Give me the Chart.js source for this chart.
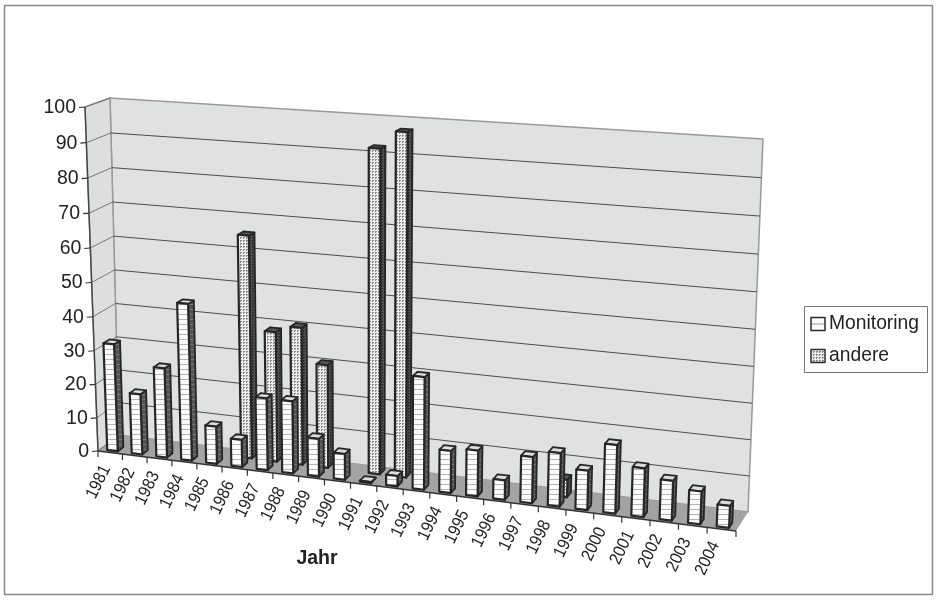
<!DOCTYPE html>
<html>
<head>
<meta charset="utf-8">
<title>Monitoring</title>
<script src="https://cdn.jsdelivr.net/npm/chart.js@4"></script>
<style>
  html, body { margin: 0; padding: 0; background: #fff; }
  #wrap { width: 938px; height: 604px; }
  canvas { filter: blur(0.5px); }
</style>
</head>
<body>
<div id="wrap"><canvas id="chart" width="938" height="604"></canvas></div>
<script>
const years = ["1981","1982","1983","1984","1985","1986","1987","1988","1989","1990","1991","1992",
  "1993","1994","1995","1996","1997","1998","1999","2000","2001","2002","2003","2004"];
const monitoring = [32,18,26.5,46,11,8,21,21,11,7.5,0.3,3,32,12,13,5.5,13,15,11,19,13.5,11,9,6];
const andere = [0,0,0,0,0,65,38,40,30,0,92,97,0,0,0,0,0,5,0,0,0,0,0,0];
const seriesNames = ["Monitoring", "andere"];
const xTitle = "Jahr";

// corners of the 3d box on screen: f = front, b = back, l/r, t/b
const box = {
  flb: [98, 451], flt: [85, 107], frb: [736, 531], frt: [752, 150],
  blb: [119, 435], blt: [110, 98], brb: [748, 512], brt: [763, 139],
};
// how deep in the box each row of bars sits
const rows = [[0.11, 0.38], [0.62, 0.89]];

function warp(t, a) {
  return (a * t) / (1 + (a - 1) * t);
}

function lerp(p, q, t) {
  return [p[0] + (q[0] - p[0]) * t, p[1] + (q[1] - p[1]) * t];
}

// u along the years, v up the value axis, w into the depth
function project(u, v, w) {
  let fu = warp(u, 0.917);
  let fv = warp(v, 0.96);
  let front = lerp(lerp(box.flb, box.frb, fu), lerp(box.flt, box.frt, fu), fv);
  let back = lerp(lerp(box.blb, box.brb, fu), lerp(box.blt, box.brt, fu), fv);
  return lerp(front, back, w);
}

function poly(ctx, pts, fill, stroke, lw) {
  ctx.beginPath();
  pts.forEach(function (p, i) {
    if (i == 0) ctx.moveTo(p[0], p[1]);
    else ctx.lineTo(p[0], p[1]);
  });
  ctx.closePath();
  if (fill) {
    ctx.fillStyle = fill;
    ctx.fill();
  }
  if (stroke) {
    ctx.strokeStyle = stroke;
    ctx.lineWidth = lw || 1;
    ctx.lineJoin = "round";
    ctx.stroke();
  }
}

function line(ctx, a, b, color, lw) {
  ctx.beginPath();
  ctx.moveTo(a[0], a[1]);
  ctx.lineTo(b[0], b[1]);
  ctx.strokeStyle = color;
  ctx.lineWidth = lw || 1;
  ctx.stroke();
}

function makePattern(ctx, w, h, bg, paint) {
  let c = document.createElement("canvas");
  c.width = w;
  c.height = h;
  let g = c.getContext("2d");
  g.fillStyle = bg;
  g.fillRect(0, 0, w, h);
  g.fillStyle = paint.color;
  paint.cells.forEach(function (cell) {
    g.fillRect(cell[0], cell[1], 1, 1);
  });
  return ctx.createPattern(c, "repeat");
}

function stripes(ctx, bg, color) {
  let cells = [];
  for (let x = 0; x < 4; x++) cells.push([x, 4]);
  return makePattern(ctx, 4, 5, bg, { color: color, cells: cells });
}

function dots(ctx, bg, color) {
  return makePattern(ctx, 3, 3, bg, { color: color, cells: [[0, 0], [1, 0], [0, 1]] });
}

const box3d = {
  id: "box3d",
  beforeDatasetsDraw(chart) {
    let ctx = chart.ctx;
    let area = chart.chartArea;
    let xs = chart.scales.x;
    let ys = chart.scales.y;
    let toU = (px) => (px - area.left) / (area.right - area.left);
    let toV = (px) => (area.bottom - px) / (area.bottom - area.top);

    ctx.save();

    // page frame
    ctx.strokeStyle = "#8a8a8a";
    ctx.lineWidth = 1.5;
    ctx.strokeRect(4.5, 5.5, 928, 589);

    // walls and floor
    poly(ctx, [box.blb, box.blt, box.brt, box.brb], "#dfe2e1", "#9a9a9a", 1.5);
    poly(ctx, [box.flb, box.flt, box.blt, box.blb], "#dcdfde", "#9a9a9a", 1.5);
    poly(ctx, [box.flb, box.blb, box.brb, box.frb], "#a3a3a3");

    // grid, value axis and its labels
    ys.ticks.forEach(function (tick) {
      let v = toV(ys.getPixelForValue(tick.value));
      let f = project(0, v, 0);
      let b = project(0, v, 1);
      let r = project(1, v, 1);
      if (tick.value > 0 && tick.value < 100) {
        line(ctx, b, r, "#4d4d4d", 1);
      }
      line(ctx, f, b, "#777", 1);
      line(ctx, f, [f[0] - 6, f[1] + 0.5], "#333", 1.2);
      ctx.fillStyle = "#222";
      ctx.font = "19.5px 'Liberation Sans'";
      ctx.textAlign = "right";
      ctx.textBaseline = "middle";
      ctx.fillText(tick.label, f[0] - 9, f[1] + 0.5);
    });
    line(ctx, project(0, 0, 0), project(0, 1, 0), "#444", 1.4);
    line(ctx, project(0, 0, 0), project(1, 0, 0), "#333", 1.4);

    // bars, back row first so the front row covers it
    let fills = [
      { front: stripes(ctx, "#fbfbfb", "#b5b5b5"), side: stripes(ctx, "#555", "#777"), top: "#dcdcdc" },
      { front: dots(ctx, "#ededed", "#8a8a8a"), side: dots(ctx, "#505050", "#2e2e2e"), top: "#5a5a5a" },
    ];
    [1, 0].forEach(function (d) {
      let meta = chart.getDatasetMeta(d);
      meta.data.forEach(function (bar, i) {
        if (chart.data.datasets[d].data[i] <= 0) return;
        let u0 = toU(bar.x - bar.width / 2);
        let u1 = toU(bar.x + bar.width / 2);
        let v0 = toV(bar.base);
        let v1 = toV(bar.y);
        let w0 = rows[d][0];
        let w1 = rows[d][1];
        poly(ctx, [project(u1, v0, w0), project(u1, v1, w0), project(u1, v1, w1), project(u1, v0, w1)],
          fills[d].side, "#262626", 1.8);
        poly(ctx, [project(u0, v1, w0), project(u1, v1, w0), project(u1, v1, w1), project(u0, v1, w1)],
          fills[d].top, "#262626", 1.8);
        poly(ctx, [project(u0, v0, w0), project(u1, v0, w0), project(u1, v1, w0), project(u0, v1, w0)],
          fills[d].front, "#262626", 2.2);
      });
    });

    // year ticks and labels, a bit squeezed like the scan
    let step = 1 / xs.ticks.length;
    for (let i = 0; i <= xs.ticks.length; i++) {
      let p = project(i * step, 0, 0);
      line(ctx, p, [p[0], p[1] + 6], "#333", 1.2);
      if (i < xs.ticks.length) {
        ctx.save();
        ctx.translate(p[0] + 0.5, p[1] + 31);
        ctx.rotate((-64 * Math.PI) / 180);
        ctx.scale(0.9, 1);
        ctx.fillStyle = "#222";
        ctx.font = "17.5px 'Liberation Sans'";
        ctx.textAlign = "center";
        ctx.textBaseline = "middle";
        ctx.fillText(xs.getLabelForValue(xs.ticks[i].value), 0, 0);
        ctx.restore();
      }
    }

    // axis title
    ctx.fillStyle = "#222";
    ctx.font = "bold 19.5px 'Liberation Sans'";
    ctx.textAlign = "center";
    ctx.textBaseline = "middle";
    ctx.fillText(xTitle, 317, 559);

    // legend
    ctx.strokeStyle = "#777";
    ctx.lineWidth = 1;
    ctx.strokeRect(804.5, 306.5, 123, 66);
    chart.data.datasets.forEach(function (ds, d) {
      let y = d == 0 ? 324 : 356;
      ctx.fillStyle = d == 0 ? "#fbfbfb" : fills[1].front;
      ctx.fillRect(811, y - 6.5, 14, 13);
      if (d == 0) line(ctx, [811, y], [825, y], "#999", 1);
      ctx.strokeStyle = "#2b2b2b";
      ctx.lineWidth = 1.5;
      ctx.strokeRect(811, y - 6.5, 14, 13);
      ctx.fillStyle = "#222";
      ctx.font = "19.3px 'Liberation Sans'";
      ctx.textAlign = "left";
      ctx.textBaseline = "middle";
      ctx.fillText(ds.label, 829, y);
    });

    ctx.restore();
    return false; // bars are already painted, skip the flat ones
  },
};

new Chart(document.getElementById("chart"), {
  type: "bar",
  data: {
    labels: years,
    datasets: [
      { label: seriesNames[0], data: monitoring, grouped: false },
      { label: seriesNames[1], data: andere, grouped: false },
    ],
  },
  options: {
    responsive: false,
    animation: false,
    barPercentage: 1,
    categoryPercentage: 0.43,
    layout: { padding: { left: 98, right: 202, top: 107, bottom: 153 } },
    plugins: { legend: { display: false }, tooltip: { enabled: false } },
    scales: {
      x: { display: false, ticks: { autoSkip: false } },
      y: { display: false, min: 0, max: 100, ticks: { stepSize: 10 } },
    },
  },
  plugins: [box3d],
});
</script>
</body>
</html>
